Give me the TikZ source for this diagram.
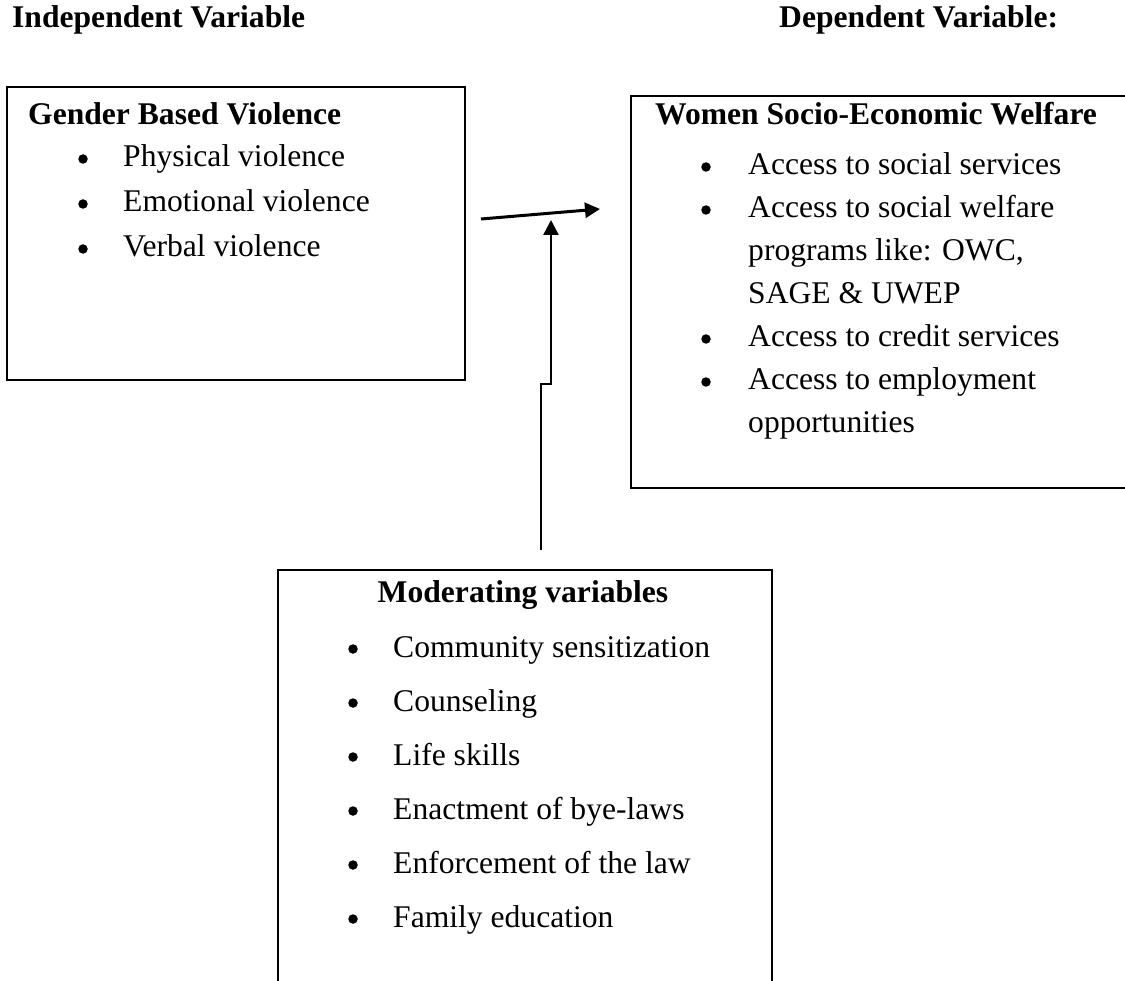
\documentclass[tikz,border=0pt]{standalone}
\usepackage{fontspec}
\setmainfont{Liberation Serif}
\usetikzlibrary{arrows.meta}
\begin{document}
\begin{tikzpicture}[x=1pt,y=-1pt,
  box/.style={draw,line width=2.3pt,inner sep=0pt},
  txt/.style={anchor=base west,inner sep=0pt,font=\fontsize{31.6}{38}\selectfont},
  hd/.style={anchor=base west,inner sep=0pt,font=\fontsize{31.6}{38}\selectfont\bfseries},
  bul/.style={circle,fill=black,inner sep=0pt,minimum size=9.5pt},
  conn/.style={line width=2.4pt,-{Triangle[length=15pt,width=15pt]}}]
\useasboundingbox (0,0) rectangle (1125,981);
\clip (0,0) rectangle (1125,981);
% headers
\node[hd] (hind) at (12,28) {Independent Variable};
\node[hd] (hdep) at (779,28) {Dependent Variable:};
% boxes
\node[box,minimum width=458pt,minimum height=293pt] (gbv) at (236,233.5) {};
\node[box,minimum width=569pt,minimum height=392pt] (ws) at (915.5,292) {};
\node[box,minimum width=494pt,minimum height=480pt] (mod) at (525,810) {};
% left box text
\node[hd] (gbvt) at (28,125) {Gender Based Violence};
\foreach \y/\t [count=\i] in {167/Physical violence,212/Emotional violence,257/Verbal violence}{
  \node[bul] (gb\i) at (83,\y-8) {};
  \node[txt] (gt\i) at (123,\y) {\t};
}
% right box text
\node[hd] (wst) at (655,125) {Women Socio-Economic Welfare};
\foreach \y in {175,218,347,390}{\node[bul] at (706,\y-8) {};}
\node[txt] (w1) at (748,175) {Access to social services};
\node[txt] (w2) at (748,218) {Access to social welfare};
\node[txt] (w3) at (748,261) {programs like: OWC,};
\node[txt] (w4) at (748,304) {SAGE \& UWEP};
\node[txt] (w5) at (748,347) {Access to credit services};
\node[txt] (w6) at (748,390) {Access to employment};
\node[txt] (w7) at (748,433) {opportunities};
% bottom box text
\node[hd,anchor=base] (modt) at (523,602) {Moderating variables};
\foreach \y/\t [count=\i] in {657/Community sensitization,711/Counseling,765/Life skills,819/Enactment of bye-laws,873/Enforcement of the law,927/Family education}{
  \node[bul] (mb\i) at (353,\y-8) {};
  \node[txt] (mt\i) at (393,\y) {\t};
}
% connectors
\coordinate (h1) at (481,219);
\coordinate (h2) at (600,209);
\draw[conn,line width=3pt] (h1) -- (h2);
\coordinate (v0) at (541,550);
\coordinate (v1) at (541,384);
\coordinate (v2) at (551,384);
\coordinate (v3) at (551,220);
\draw[conn] (v0) -- (v1) -- (v2) -- (v3);
\end{tikzpicture}
\end{document}
